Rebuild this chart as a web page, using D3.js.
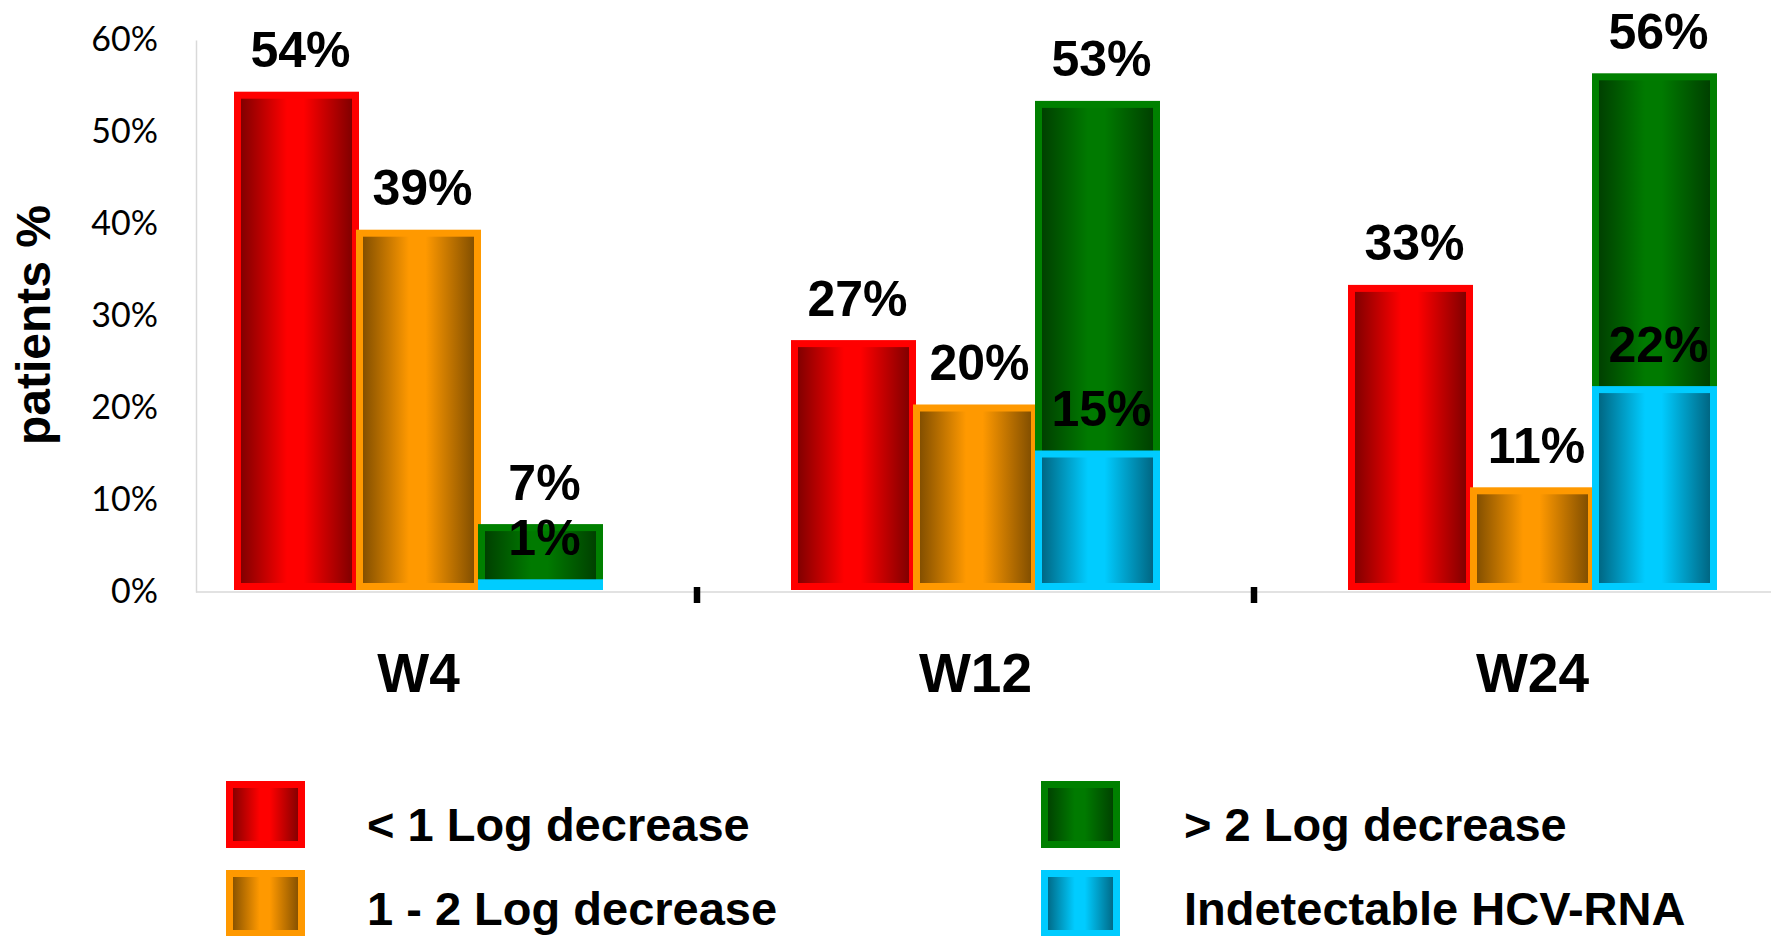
<!DOCTYPE html>
<html>
<head>
<meta charset="utf-8">
<script src="https://cdn.jsdelivr.net/npm/d3@7"></script>
<style>
  body { margin: 0; background: #fff; }
  svg { display: block; }
</style>
</head>
<body>
<svg id="chart" width="1771" height="936"></svg>
<script>
// ---- data ----
const categories = ["W4", "W12", "W24"];
const seriesNames = ["< 1 Log decrease", "1 - 2 Log decrease", "> 2 Log decrease", "Indetectable HCV-RNA"];
const lessThan1Log = [54, 27, 33];
const oneToTwoLog = [39, 20, 11];
const moreThan2Log = [7, 53, 56];
const undetectable = [1, 15, 22];
const yTickValues = [0, 10, 20, 30, 40, 50, 60];
const yTitle = "patients %";

// ---- styles ----
const seriesStyles = [
  { slot: 0, stroke: "#FF0000", dark: "#780000", bright: "#FF0000" },
  { slot: 1, stroke: "#FF9900", dark: "#7A4A00", bright: "#FF9900" },
  { slot: 2, stroke: "#008000", dark: "#003C00", bright: "#007A00" },
  { slot: 2, stroke: "#00CCFF", dark: "#005F7A", bright: "#00CCFF" }
];
const seriesValues = [lessThan1Log, oneToTwoLog, moreThan2Log, undetectable];
const series = seriesNames.map((name, i) => ({ name, values: seriesValues[i], ...seriesStyles[i] }));

const W = 1771, H = 936;
const plot = { left: 196, right: 1771, top: 40, bottom: 592 };
const boldFont = "'Liberation Sans', Arial, sans-serif";
const STROKE = 7;

const svg = d3.select("#chart");
svg.append("rect").attr("width", W).attr("height", H).attr("fill", "#fff");

// gradients: dark edges, bright middle
const defs = svg.append("defs");
series.forEach((s, i) => {
  const g = defs.append("linearGradient")
    .attr("id", "grad" + i)
    .attr("x1", 0).attr("x2", 1).attr("y1", 0).attr("y2", 0);
  [[0, s.dark], [0.42, s.bright], [0.56, s.bright], [1, s.dark]].forEach(([o, c]) =>
    g.append("stop").attr("offset", o).attr("stop-color", c));
});

// ---- scales ----
const y = d3.scaleLinear().domain([0, 60]).range([plot.bottom, plot.top]);
const x = d3.scaleBand().domain(categories).range([140, 1811]);
const slot = d3.scaleBand().domain([0, 1, 2]).range([-183, 183]);
const groupCenter = c => x(c) + x.bandwidth() / 2;

// ---- y axis ----
const yAxis = svg.append("g")
  .attr("transform", `translate(${plot.left},0)`)
  .call(d3.axisLeft(y).tickValues(yTickValues).tickFormat(d => d + "%").tickSize(0).tickSizeOuter(0).tickPadding(38));
yAxis.select(".domain").attr("stroke", "#d9d9d9").attr("stroke-width", 1.5);
yAxis.selectAll(".tick text")
  .attr("font-family", "Lato, 'Open Sans', sans-serif")
  .attr("font-size", 34)
  .attr("fill", "#000");

// baseline
svg.append("line")
  .attr("x1", plot.left).attr("x2", plot.right)
  .attr("y1", y(0)).attr("y2", y(0))
  .attr("stroke", "#d9d9d9").attr("stroke-width", 1.5);

// y title
svg.append("text")
  .attr("transform", `translate(50,${(plot.top + plot.bottom) / 2 + 9}) rotate(-90)`)
  .attr("text-anchor", "middle")
  .attr("font-family", boldFont)
  .attr("font-weight", "bold")
  .attr("font-size", 48)
  .text(yTitle);

// ---- bars ----
const barsG = svg.append("g");
series.forEach((s, i) => {
  barsG.selectAll(null)
    .data(categories.map((c, k) => ({ c, v: s.values[k] })))
    .join("rect")
    .attr("x", d => groupCenter(d.c) + slot(s.slot) + 2)
    .attr("width", slot.bandwidth() - 4)
    .attr("y", d => y(d.v))
    .attr("height", d => Math.max(0, y(0) - 5.5 - y(d.v)))
    .attr("fill", `url(#grad${i})`)
    .attr("stroke", s.stroke)
    .attr("stroke-width", STROKE);
});

// ---- value labels ----
const labelsG = svg.append("g");
series.forEach(s => {
  labelsG.selectAll(null)
    .data(categories.map((c, k) => ({ c, v: s.values[k] })))
    .join("text")
    .attr("x", d => groupCenter(d.c) + slot(s.slot) + slot.bandwidth() / 2 + 4)
    .attr("y", d => y(d.v) - 28)
    .attr("text-anchor", "middle")
    .attr("font-family", boldFont)
    .attr("font-weight", "bold")
    .attr("font-size", 50)
    .attr("fill", "#000")
    .text(d => d.v + "%");
});

// ---- category axis ----
// separators between groups
svg.append("g").selectAll("line")
  .data(categories.slice(0, -1))
  .join("line")
  .attr("x1", c => x(c) + x.bandwidth())
  .attr("x2", c => x(c) + x.bandwidth())
  .attr("y1", y(0) - 5).attr("y2", y(0) + 11)
  .attr("stroke", "#000").attr("stroke-width", 6.5);

svg.append("g").selectAll("text")
  .data(categories)
  .join("text")
  .attr("x", c => groupCenter(c))
  .attr("y", 692)
  .attr("text-anchor", "middle")
  .attr("font-family", boldFont)
  .attr("font-weight", "bold")
  .attr("font-size", 55)
  .text(c => c);

// ---- legend ----
const legendCols = [{ sq: 229.5, tx: 367 }, { sq: 1044.5, tx: 1184 }];
const legendRows = [784.5, 873.5];
const legend = svg.append("g").selectAll("g")
  .data(series)
  .join("g")
  .attr("transform", (d, i) => `translate(0,${legendRows[i % 2]})`);
legend.append("rect")
  .attr("x", (d, i) => legendCols[Math.floor(i / 2)].sq)
  .attr("y", 0)
  .attr("width", 72).attr("height", 60)
  .attr("fill", (d, i) => `url(#grad${i})`)
  .attr("stroke", d => d.stroke)
  .attr("stroke-width", STROKE);
legend.append("text")
  .attr("x", (d, i) => legendCols[Math.floor(i / 2)].tx)
  .attr("y", (d, i) => i % 2 ? 51 : 56.5)
  .attr("font-family", boldFont)
  .attr("font-weight", "bold")
  .attr("font-size", 47)
  .text(d => d.name);
</script>
</body>
</html>
